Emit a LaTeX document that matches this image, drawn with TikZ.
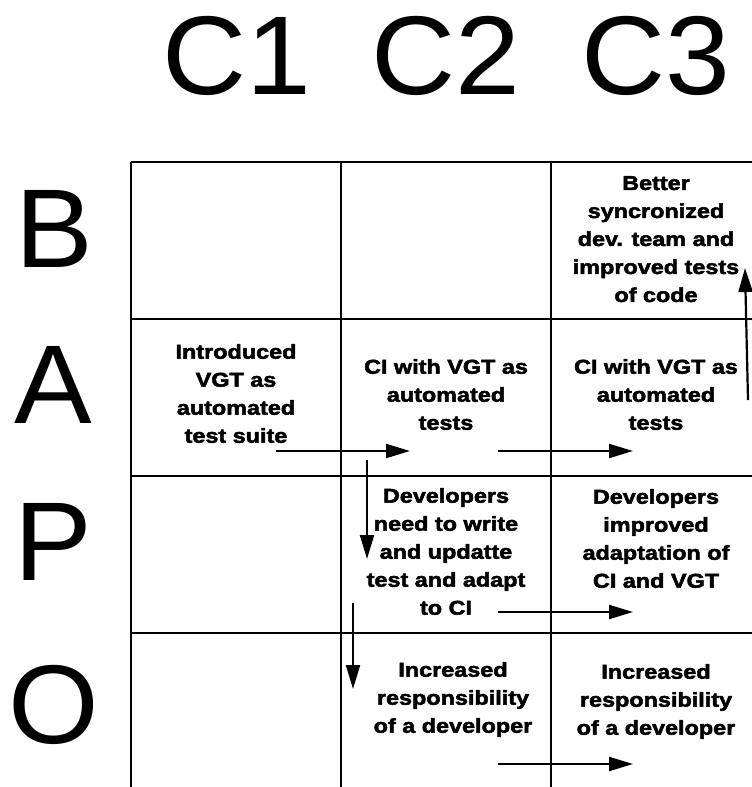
\documentclass[tikz,border=0pt]{standalone}
\usepackage{fontspec}
\setmainfont{Liberation Sans}
\newfontfamily\cellfont[FakeStretch=1.17, BoldFeatures={FakeBold=2.5}]{Liberation Sans}
\newfontfamily\headfont[FakeStretch=1.04]{Liberation Sans}
\usetikzlibrary{arrows.meta}

\tikzset{
  gridline/.style={line width=2.3pt, draw=black},
  flow/.style={line width=2.2pt, draw=black, -{Triangle[length=24pt,width=14pt]}},
  celltext/.style={font=\cellfont\bfseries\fontsize{20}{28}\selectfont,
                   align=center, anchor=north, inner sep=0pt},
  axislabel/.style={font=\headfont\fontsize{112}{112}\selectfont,
                    anchor=base, inner sep=0pt},
}

\begin{document}
\begin{tikzpicture}[x=1pt, y=-1pt]
  \useasboundingbox[fill=white] (0,0) rectangle (752,787);

  % column headings
  \node[axislabel] (hC1) at (237,94) {C1};
  \node[axislabel] (hC2) at (446,94) {C2};
  \node[axislabel] (hC3) at (656,94) {C3};

  % row headings
  \node[axislabel] (hB) at (54,267) {B};
  \node[axislabel] (hA) at (53,423) {A};
  \node[axislabel] (hP) at (53,580) {P};
  \node[axislabel] (hO) at (54,743) {O};

  % table grid (runs off the right and bottom edges)
  \foreach \y in {162,319,476,633}
    \draw[gridline] (131,\y) -- (752,\y);
  \foreach \x in {131,341,551}
    \draw[gridline] (\x,162) -- (\x,787);

  % cell contents
  \node[celltext] (introVGT) at (236,344) {Introduced\\VGT as\\automated\\test suite};
  \node[celltext] (ciA2) at (446,359) {CI with VGT as\\automated\\tests};
  \node[celltext] (ciA3) at (656,359) {CI with VGT as\\automated\\tests};
  \node[celltext] (betterB3) at (656,176) {Better\\syncronized\\dev. team and\\improved tests\\of code};
  \node[celltext] (devP2) at (446,488) {Developers\\need to write\\and updatte\\test and adapt\\to CI};
  \node[celltext] (devP3) at (656,489) {Developers\\improved\\adaptation of\\CI and VGT};
  \node[celltext] (respO2) at (453,662) {Increased\\responsibility\\of a developer};
  \node[celltext] (respO3) at (656,664) {Increased\\responsibility\\of a developer};

  % arrow end points
  \coordinate (aA1s) at (276,451);  \coordinate (aA1e) at (410,451);
  \coordinate (aA2s) at (498,451);  \coordinate (aA2e) at (633,451);
  \coordinate (aV1s) at (367,460);  \coordinate (aV1e) at (367,559);
  \coordinate (aV2s) at (353,603);  \coordinate (aV2e) at (353,689);
  \coordinate (aP2s) at (498,612);  \coordinate (aP2e) at (633,612);
  \coordinate (aO2s) at (498,764);  \coordinate (aO2e) at (633,764);
  \coordinate (aUps) at (748,400);  \coordinate (aUpe) at (745,268);

  % arrows
  \draw[flow] (aA1s) -- (aA1e);
  \draw[flow] (aA2s) -- (aA2e);
  \draw[flow] (aV1s) -- (aV1e);
  \draw[flow] (aV2s) -- (aV2e);
  \draw[flow] (aP2s) -- (aP2e);
  \draw[flow] (aO2s) -- (aO2e);
  \draw[flow] (aUps) -- (aUpe);
\end{tikzpicture}
\end{document}
